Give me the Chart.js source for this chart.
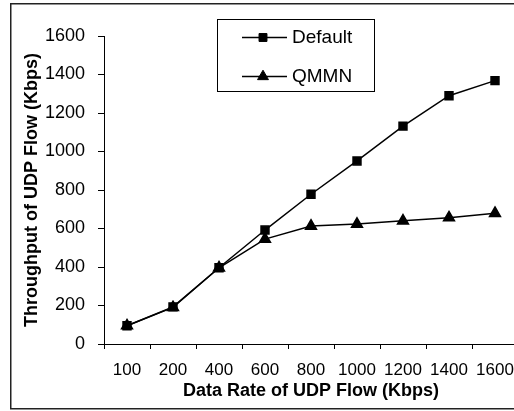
<!DOCTYPE html>
<html>
<head>
<meta charset="utf-8">
<script src="https://cdn.jsdelivr.net/npm/chart.js@4"></script>
<style>
  html, body { margin: 0; padding: 0; background: #fff; overflow: hidden; }
  #wrap { position: absolute; left: 0; top: 0; width: 540px; height: 411px; }
</style>
</head>
<body>
<div id="wrap"><canvas id="c" width="540" height="411"></canvas></div>
<script>
const categories = ['100', '200', '400', '600', '800', '1000', '1200', '1400', '1600'];
const defaultValues = [95, 193, 396, 592, 778, 951, 1132, 1290, 1368];
const qmmnValues = [95, 190, 396, 545, 613, 623, 640, 656, 679];
const seriesNames = ['Default', 'QMMN'];
const yTicks = [0, 200, 400, 600, 800, 1000, 1200, 1400, 1600];

const FONT = "'Liberation Sans', Arial, sans-serif";

const frame = {
  id: 'frame',
  beforeDraw(chart) {
    const ctx = chart.ctx;
    ctx.save();
    ctx.fillStyle = '#fff';
    ctx.fillRect(0, 0, chart.width, chart.height);
    ctx.strokeStyle = '#222';
    ctx.lineWidth = 1.5;
    ctx.strokeRect(10.75, 3.75, 600, 405);
    ctx.restore();
  }
};

const boxLegend = {
  id: 'boxLegend',
  afterDraw(chart) {
    const ctx = chart.ctx;
    const x0 = 217.5, y0 = 19.5, w = 157, h = 72;
    ctx.save();
    ctx.fillStyle = '#fff';
    ctx.fillRect(x0, y0, w, h);
    ctx.strokeStyle = '#000';
    ctx.lineWidth = 1;
    ctx.strokeRect(x0, y0, w, h);
    const rows = [37.5, 76.5];
    chart.data.datasets.forEach((ds, i) => {
      const y = rows[i];
      ctx.strokeStyle = ds.borderColor;
      ctx.lineWidth = ds.borderWidth;
      ctx.beginPath();
      ctx.moveTo(242, y);
      ctx.lineTo(287, y);
      ctx.stroke();
      const opts = { pointStyle: ds.pointStyle, radius: ds.pointRadius, borderWidth: 1, rotation: 0 };
      ctx.fillStyle = ds.pointBackgroundColor;
      ctx.strokeStyle = ds.pointBorderColor;
      ctx.lineWidth = 1;
      Chart.helpers.drawPoint(ctx, opts, 263, y);
      ctx.fillStyle = '#000';
      ctx.font = '19px ' + FONT;
      ctx.textBaseline = 'middle';
      ctx.textAlign = 'left';
      ctx.fillText(ds.label, 292, y);
    });
    ctx.restore();
  }
};

new Chart(document.getElementById('c'), {
  type: 'line',
  data: {
    labels: categories,
    datasets: [
      {
        label: seriesNames[0],
        data: defaultValues,
        borderColor: '#000',
        borderWidth: 1.5,
        pointStyle: 'rect',
        pointRadius: 5.6,
        pointBackgroundColor: '#000',
        pointBorderColor: '#000',
        tension: 0
      },
      {
        label: seriesNames[1],
        data: qmmnValues,
        borderColor: '#000',
        borderWidth: 1.5,
        pointStyle: 'triangle',
        pointRadius: 6.3,
        pointBackgroundColor: '#000',
        pointBorderColor: '#000',
        tension: 0
      }
    ]
  },
  options: {
    responsive: false,
    animation: false,
    devicePixelRatio: 1,
    layout: { padding: { left: 10, top: 36, right: 22, bottom: 2 } },
    plugins: { legend: { display: false }, tooltip: { enabled: false } },
    scales: {
      x: {
        type: 'category',
        offset: true,
        grid: { display: true, drawOnChartArea: false, drawTicks: true, tickLength: 5, offset: true, color: '#000', lineWidth: 1 },
        border: { display: true, color: '#000', width: 1 },
        ticks: { color: '#000', font: { family: FONT, size: 17 }, padding: 11, maxRotation: 0, autoSkip: false },
        title: { display: true, text: 'Data Rate of UDP Flow (Kbps)', color: '#000', font: { family: FONT, size: 18, weight: 'bold' }, padding: { top: 0, bottom: 7 } },
        afterFit(scale) { scale.height = 65; }
      },
      y: {
        min: 0,
        max: 1600,
        afterBuildTicks(scale) { scale.ticks = yTicks.map(v => ({ value: v })); },
        grid: { display: true, drawOnChartArea: false, drawTicks: true, tickLength: 6, color: '#000', lineWidth: 1 },
        border: { display: true, color: '#000', width: 1 },
        ticks: { color: '#000', font: { family: FONT, size: 18 }, padding: 13, callback: (v) => String(v) },
        title: { display: true, text: 'Throughput of UDP Flow (Kbps)', color: '#000', font: { family: FONT, size: 18, weight: 'bold' }, padding: { top: 11, bottom: 0 } },
        afterFit(scale) { scale.width = 94; }
      }
    }
  },
  plugins: [frame, boxLegend]
});
</script>
</body>
</html>
